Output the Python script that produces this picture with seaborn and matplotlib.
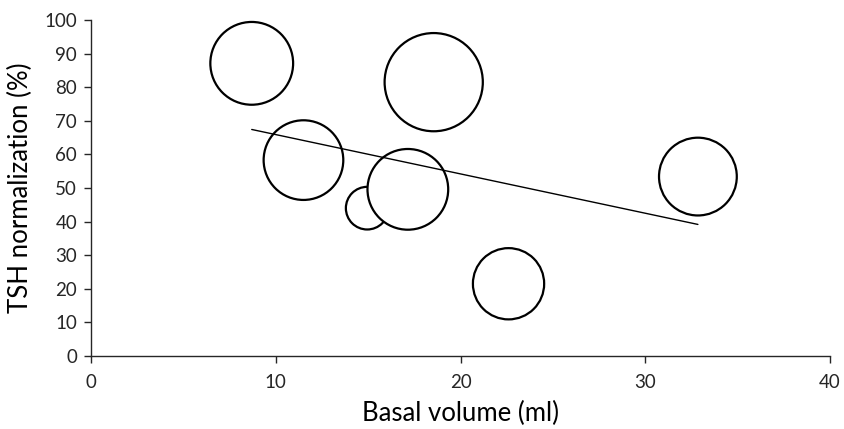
import matplotlib
matplotlib.use("Agg")
import matplotlib.pyplot as plt
import numpy as np
import pandas as pd
import seaborn as sns

# values
basal_volume = [8.7, 18.55, 11.5, 14.95, 17.15, 32.85, 22.6]
tsh_norm = [87.1, 81.5, 58.3, 44.0, 49.6, 53.4, 21.5]
bubble_size = [16.2, 22.8, 15.0, 4.3, 15.4, 14.3, 12.0]

x_ticks = [0, 10, 20, 30, 40]
y_ticks = list(range(0, 101, 10))

df = pd.DataFrame({"vol": basal_volume, "tsh": tsh_norm, "size": bubble_size})

sns.set_theme(style="ticks")
plt.rcParams["font.family"] = ["Lato", "DejaVu Sans"]

fig, ax = plt.subplots(figsize=(8.45, 4.29), dpi=100)
fig.subplots_adjust(left=91 / 845, right=830 / 845, top=1 - 20 / 429, bottom=1 - 356 / 429)

sns.scatterplot(data=df, x="vol", y="tsh", size="size", sizes=(0, 5000),
                size_norm=(0, max(bubble_size)), legend=False,
                facecolor="white", edgecolor="black", linewidth=1.6, ax=ax, zorder=2)
sns.regplot(data=df, x="vol", y="tsh", scatter=False, ci=None, color="black",
            line_kws={"lw": 1.0, "zorder": 3}, ax=ax)

ax.set_xlim(0, 40)
ax.set_ylim(0, 100)
ax.set_xticks(x_ticks)
ax.set_yticks(y_ticks)
ax.set_xlabel("Basal volume (ml)", fontsize=18.5, color="black", labelpad=7)
ax.set_ylabel("TSH normalization (%)", fontsize=18.5, color="black", labelpad=8)
ax.tick_params(axis="both", labelsize=13.5, colors="#262626", length=5, width=1, direction="out")
ax.tick_params(axis="x", pad=8)
ax.tick_params(axis="y", pad=5)
for s in ["left", "bottom"]:
    ax.spines[s].set_color("#262626")
    ax.spines[s].set_linewidth(1)
sns.despine(ax=ax)

fig.savefig("out.png", dpi=100)
